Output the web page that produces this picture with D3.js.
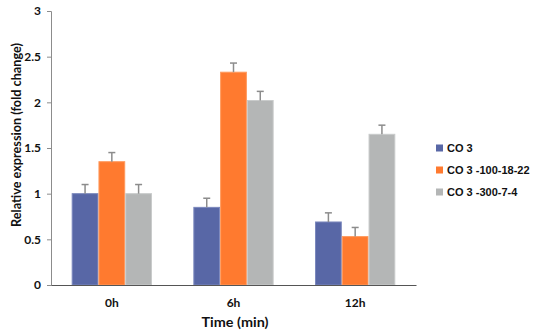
<!DOCTYPE html>
<html><head><meta charset="utf-8">
<script src="https://cdn.jsdelivr.net/npm/d3@7"></script>
<style>body{margin:0;background:#fff}svg{display:block}</style>
</head><body><svg id="c" width="550" height="336"></svg>
<script>
const categories = ["0h", "6h", "12h"];
const seriesNames = ["CO 3", "CO 3 -100-18-22", "CO 3 -300-7-4"];
const seriesValues = [
  [1.00, 0.85, 0.69],
  [1.35, 2.33, 0.53],
  [1.00, 2.02, 1.65]
];
const seriesErrors = [
  [0.10, 0.10, 0.10],
  [0.10, 0.10, 0.10],
  [0.10, 0.10, 0.10]
];
const yTicks = [0, 0.5, 1, 1.5, 2, 2.5, 3];
const colors = ["#5867a6", "#ff7a2f", "#b4b6b6"];
const strokes = ["#7b88bd", "#ff9a5e", "#c9cbcb"];

const svg = d3.select("#c");
const mLeft = 51, mRight = 416, mTop = 11, mBottom = 285;
const x = d3.scaleBand().domain(categories).range([mLeft, mRight]).paddingInner(0.34).paddingOuter(0.17);
const xs = d3.scaleBand().domain(d3.range(seriesNames.length)).range([0, x.bandwidth()]);
const y = d3.scaleLinear().domain([0, 3]).range([mBottom, mTop]);

const axisFont = "Lato, 'Open Sans', sans-serif";

// Y axis
const ya = svg.append("g").attr("transform", `translate(${mLeft},0)`)
  .call(d3.axisLeft(y).tickValues(yTicks).tickFormat(d => String(d)).tickSize(4).tickPadding(6));
ya.select(".domain").attr("stroke", "#8c8c8c").attr("stroke-width", 1);
ya.selectAll(".tick line").attr("stroke", "#8c8c8c");
ya.selectAll(".tick text").attr("font-family", axisFont).attr("font-weight", "bold").attr("font-size", 12).attr("fill", "#111");

// Bars
const data = [];
categories.forEach((c, i) => seriesNames.forEach((s, j) => data.push({c, j, v: seriesValues[j][i], e: seriesErrors[j][i]})));

svg.append("g").selectAll("rect").data(data).join("rect")
  .attr("x", d => x(d.c) + xs(d.j) + 0.5)
  .attr("y", d => y(d.v))
  .attr("width", xs.bandwidth() - 1)
  .attr("height", d => mBottom - y(d.v))
  .attr("fill", d => colors[d.j])
  .attr("stroke", d => strokes[d.j]).attr("stroke-width", 1);

// Error bars
const eb = svg.append("g").attr("stroke", "#8c8c8c").attr("stroke-width", 1.5);
data.forEach(d => {
  const cx = x(d.c) + xs(d.j) + xs.bandwidth() / 2;
  eb.append("line").attr("x1", cx).attr("x2", cx).attr("y1", y(d.v)).attr("y2", y(d.v + d.e));
  eb.append("line").attr("x1", cx - 3.5).attr("x2", cx + 3.5).attr("y1", y(d.v + d.e)).attr("y2", y(d.v + d.e));
});

// X axis
const xa = svg.append("g").attr("transform", `translate(0,${mBottom})`)
  .call(d3.axisBottom(x).tickSize(0).tickPadding(13));
xa.select(".domain").attr("stroke", "#555").attr("stroke-width", 1.2);
xa.selectAll(".tick text").attr("font-family", axisFont).attr("font-weight", "bold").attr("font-size", 12).attr("fill", "#111");

// Axis titles
svg.append("text").attr("x", 235).attr("y", 327).attr("text-anchor", "middle")
  .attr("font-family", axisFont).attr("font-weight", "bold").attr("font-size", 13.5).attr("fill", "#111")
  .attr("textLength", 67).attr("lengthAdjust", "spacingAndGlyphs").text("Time (min)");
svg.append("text").attr("transform", "translate(21,135) rotate(-90)").attr("text-anchor", "middle")
  .attr("font-family", axisFont).attr("font-weight", "bold").attr("font-size", 13.5).attr("fill", "#111")
  .attr("textLength", 184).attr("lengthAdjust", "spacingAndGlyphs").text("Relative expression (fold change)");

// Legend
const lg = svg.append("g").attr("transform", "translate(436,148)");
seriesNames.forEach((s, j) => {
  const g = lg.append("g").attr("transform", `translate(0,${j * 22})`);
  g.append("rect").attr("x", 0).attr("y", -3.5).attr("width", 7).attr("height", 7).attr("fill", colors[j]);
  g.append("text").attr("x", 11).attr("y", 0).attr("dy", "0.35em")
    .attr("font-family", "'Liberation Sans', Arial, sans-serif").attr("font-weight", "bold").attr("font-size", 11).attr("fill", "#111").text(s);
});
</script></body></html>
